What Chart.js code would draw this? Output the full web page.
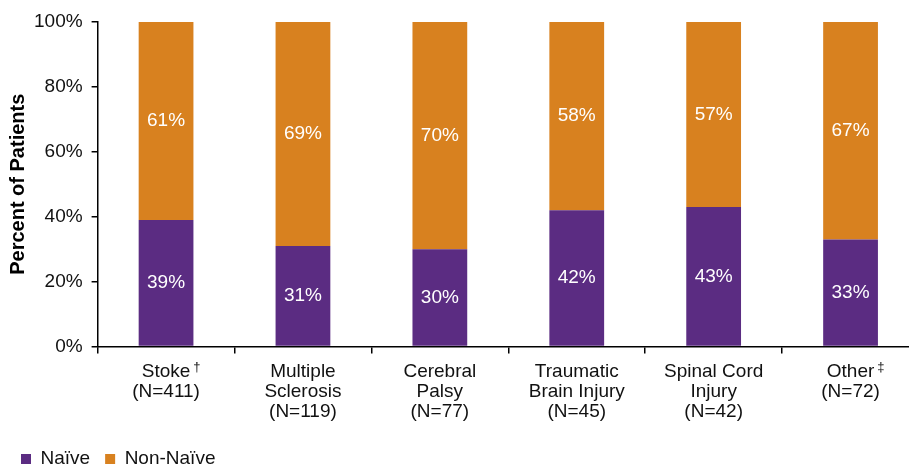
<!DOCTYPE html>
<html>
<head>
<meta charset="utf-8">
<script src="https://cdn.jsdelivr.net/npm/chart.js@4"></script>
<style>
  html, body { margin: 0; padding: 0; overflow: hidden; background: #fff; }
  #wrap { width: 920px; height: 468px; }
</style>
</head>
<body>
<div id="wrap"><canvas id="c"></canvas></div>
<script>
// Condition groups (multi-line axis labels) and their footnote marks
const categories = [
  ["Stoke", "(N=411)"],
  ["Multiple", "Sclerosis", "(N=119)"],
  ["Cerebral", "Palsy", "(N=77)"],
  ["Traumatic", "Brain Injury", "(N=45)"],
  ["Spinal Cord", "Injury", "(N=42)"],
  ["Other", "(N=72)"]
];
const footnoteMarks = ["\u2020", "", "", "", "", "\u2021"];

// Share of patients per group, in percent
const naive = [39, 31, 30, 42, 43, 33];
const nonNaive = [61, 69, 70, 58, 57, 67];

// Value axis ticks
const yTicks = [0, 20, 40, 60, 80, 100];

const seriesNames = ["Na\u00efve", "Non-Na\u00efve"];
const seriesColors = ["#5B2C82", "#D8811F"];

const FONT = "'Liberation Sans', Arial, sans-serif";
const TEXT = "#111111";

// White percentage labels centred inside each stacked segment
const segmentLabels = {
  id: "segmentLabels",
  afterDatasetsDraw(chart) {
    const ctx = chart.ctx;
    ctx.save();
    ctx.font = "19px " + FONT;
    ctx.fillStyle = "#ffffff";
    ctx.textAlign = "center";
    ctx.textBaseline = "middle";
    chart.data.datasets.forEach((ds, di) => {
      const meta = chart.getDatasetMeta(di);
      meta.data.forEach((bar, i) => {
        const yMid = (bar.y + bar.base) / 2;
        ctx.fillText(ds.data[i] + "%", bar.x, yMid);
      });
    });
    ctx.restore();
  }
};

// Small raised footnote marks after the first line of some axis labels
const footnotes = {
  id: "footnotes",
  afterDraw(chart) {
    const xs = chart.scales.x;
    const items = xs.getLabelItems(chart.chartArea);
    const ctx = chart.ctx;
    ctx.save();
    items.forEach((item, i) => {
      const mark = footnoteMarks[i];
      if (!mark) return;
      const first = Array.isArray(item.label) ? item.label[0] : item.label;
      ctx.font = "19px " + FONT;
      const w = ctx.measureText(first).width;
      const tr = item.options.translation;
      const off = item.textOffset || 0;
      ctx.font = "13px " + FONT;
      ctx.fillStyle = TEXT;
      ctx.textAlign = "left";
      ctx.textBaseline = item.options.textBaseline || "middle";
      ctx.fillText(mark, tr[0] + w / 2 + 3, tr[1] + off - 4);
    });
    ctx.restore();
  }
};

new Chart(document.getElementById("c"), {
  type: "bar",
  data: {
    labels: categories,
    datasets: [
      { label: seriesNames[0], data: naive, backgroundColor: seriesColors[0], borderWidth: 0 },
      { label: seriesNames[1], data: nonNaive, backgroundColor: seriesColors[1], borderWidth: 0 }
    ]
  },
  options: {
    responsive: true,
    maintainAspectRatio: false,
    animation: false,
    devicePixelRatio: 1,
    categoryPercentage: 1.0,
    barPercentage: 0.4,
    layout: { padding: { top: 22, left: 6, right: 1, bottom: -10.5 } },
    plugins: {
      tooltip: { enabled: false },
      legend: {
        position: "bottom",
        align: "start",
        labels: {
          boxWidth: 10,
          boxHeight: 10,
          padding: 15,
          color: TEXT,
          font: { family: FONT, size: 19 }
        }
      }
    },
    scales: {
      x: {
        stacked: true,
        offset: true,
        grid: { display: true, drawOnChartArea: false, drawTicks: true, tickLength: 7, color: "#000", offset: true, lineWidth: 1.5 },
        border: { display: true, color: "#000", width: 1.5 },
        ticks: {
          color: TEXT,
          padding: 8,
          maxRotation: 0,
          autoSkip: false,
          font: { family: FONT, size: 19, lineHeight: 1.05 }
        },
        afterFit(scale) { scale.height = 88; }
      },
      y: {
        stacked: true,
        min: 0,
        max: 100,
        afterBuildTicks(scale) { scale.ticks = yTicks.map(v => ({ value: v })); },
        grid: { display: true, drawOnChartArea: false, drawTicks: true, tickLength: 6, color: "#000", lineWidth: 1.5 },
        border: { display: true, color: "#000", width: 1.5 },
        ticks: {
          color: TEXT,
          padding: 9,
          font: { family: FONT, size: 19 },
          callback: v => v + "%"
        },
        title: {
          display: true,
          text: "Percent of Patients",
          color: "#000",
          padding: { top: 0, bottom: 0 },
          font: { family: FONT, size: 20, weight: "bold" }
        },
        afterFit(scale) { scale.width = 91.6; }
      }
    }
  },
  plugins: [segmentLabels, footnotes]
});
</script>
</body>
</html>
